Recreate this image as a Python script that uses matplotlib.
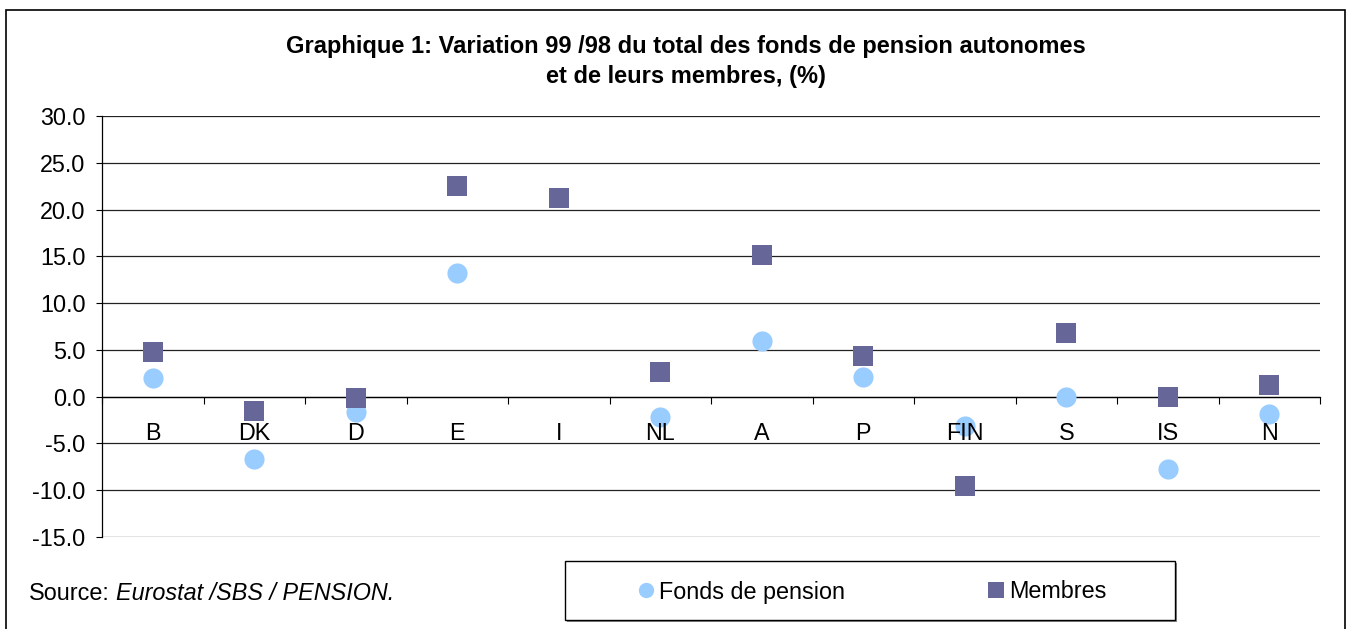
import matplotlib.pyplot as plt
from matplotlib.lines import Line2D
from matplotlib.patches import Rectangle
import numpy as np

# Données
pays = ['B', 'DK', 'D', 'E', 'I', 'NL', 'A', 'P', 'FIN', 'S', 'IS', 'N']
fonds = [2.0, -6.7, -1.6, 13.2, np.nan, -2.2, 5.9, 2.1, -3.1, 0.0, -7.7, -1.85]
membres = [4.8, -1.5, -0.1, 22.5, 21.2, 2.6, 15.1, 4.3, -9.5, 6.8, 0.0, 1.25]
yticks = [-15, -10, -5, 0, 5, 10, 15, 20, 25, 30]

col_fonds = '#99CCFF'
col_membres = '#666699'

W, H = 1346, 629
fs = 16.8
plt.rcParams['font.family'] = ['Liberation Sans', 'DejaVu Sans']

fig = plt.figure(figsize=(W / 100, H / 100), dpi=100)
ax = fig.add_axes([102 / W, 1 - 537 / H, 1218 / W, 421 / H])

x = np.arange(len(pays))

# grille horizontale
for yv in yticks:
    ax.axhline(yv, color='#222222', lw=0.9, zorder=1)

ax.plot(x, fonds, linestyle='none', marker='o', ms=14.5, color=col_fonds,
        markeredgewidth=0, zorder=3, label='Fonds de pension')
ax.plot(x, membres, linestyle='none', marker='s', ms=15, color=col_membres,
        markeredgewidth=0, zorder=4, label='Membres')

ax.set_xlim(-0.5, len(pays) - 0.5)
ax.set_ylim(-15, 30)
ax.set_yticks(yticks)
ax.set_yticklabels(['%.1f' % v for v in yticks], fontsize=fs)
ax.tick_params(axis='y', direction='out', length=4.3, width=0.8, pad=7.5)

# axe des x sur la ligne zéro
ax.spines['bottom'].set_position(('data', 0))
ax.spines['bottom'].set_linewidth(0.9)
ax.spines['top'].set_visible(False)
ax.spines['right'].set_visible(False)
ax.spines['left'].set_linewidth(0.9)
ax.set_xticks(x)
ax.set_xticklabels(pays, fontsize=fs)
ax.tick_params(axis='x', which='major', length=0, pad=18)
ax.set_xticks(np.arange(-0.5, len(pays), 1), minor=True)
ax.tick_params(axis='x', which='minor', direction='out', length=5, width=0.8)
ax.xaxis.set_zorder(5)  # étiquettes au-dessus des marqueurs

# Titre
fig.text(686 / W, 1 - 46 / H, 'Graphique 1: Variation 99 /98 du total des fonds de pension autonomes',
         ha='center', va='center', fontsize=17, fontweight='bold')
fig.text(686 / W, 1 - 76 / H, 'et de leurs membres, (%)',
         ha='center', va='center', fontsize=17, fontweight='bold')

# Source
t = fig.text(29 / W, 1 - 593 / H, 'Source:', ha='left', va='center', fontsize=fs)
fig.canvas.draw()
x_fin = t.get_window_extent().x1
fig.text((x_fin + 6) / W, 1 - 593 / H, 'Eurostat /SBS / PENSION.', ha='left', va='center',
         fontsize=fs, style='italic')

# cadre de la légende avec ombre
fig.patches.append(Rectangle((567 / W, 1 - 622 / H), 610 / W, 59 / H, transform=fig.transFigure,
                             facecolor='#888888', edgecolor='none', zorder=0))
fig.patches.append(Rectangle((565 / W, 1 - 620 / H), 610 / W, 59 / H, transform=fig.transFigure,
                             facecolor='white', edgecolor='black', lw=1, zorder=1))

handles = [Line2D([], [], linestyle='none', marker='o', ms=11, color=col_fonds, markeredgewidth=0),
           Line2D([], [], linestyle='none', marker='s', ms=11, color=col_membres, markeredgewidth=0)]
fig.legend(handles, ['Fonds de pension', 'Membres'], loc='center',
           bbox_to_anchor=(873 / W, 1 - 592 / H), ncol=2, frameon=False, fontsize=fs,
           handlelength=0.55, handletextpad=0.3, columnspacing=6.2, borderaxespad=0)

# bordure extérieure
fig.patches.append(Rectangle((6 / W, -0.05), 1339 / W, 1.05 - 10 / H, transform=fig.transFigure,
                             facecolor='none', edgecolor='black', lw=1.2, zorder=2))

plt.savefig('out.png', dpi=100)
